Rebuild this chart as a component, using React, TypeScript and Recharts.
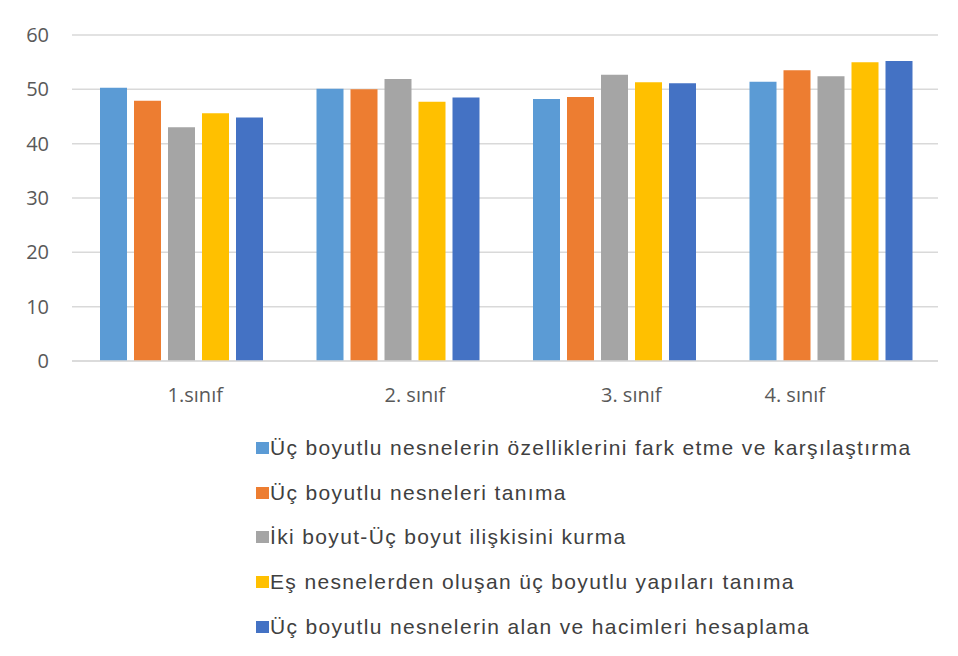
import { BarChart, Bar, XAxis, YAxis, CartesianGrid } from "recharts";

const categories = ["1.sınıf", "2. sınıf", "3. sınıf", "4. sınıf"];

const seriesNames = [
  "Üç boyutlu nesnelerin özelliklerini fark etme ve karşılaştırma",
  "Üç boyutlu nesneleri tanıma",
  "İki boyut-Üç boyut ilişkisini kurma",
  "Eş nesnelerden oluşan üç boyutlu yapıları tanıma",
  "Üç boyutlu nesnelerin alan ve hacimleri hesaplama",
];

const ozellik = [50.3, 50.1, 48.2, 51.4];
const tanima = [47.9, 50.0, 48.6, 53.5];
const ikiUc = [43.0, 51.9, 52.7, 52.4];
const esNesne = [45.6, 47.7, 51.3, 55.0];
const alanHacim = [44.8, 48.5, 51.1, 55.2];

const yTicks = [0, 10, 20, 30, 40, 50, 60];

const colors = ["#5b9bd5", "#ed7d31", "#a5a5a5", "#ffc000", "#4472c4"];

const seriesValues = [ozellik, tanima, ikiUc, esNesne, alanHacim];

const data = categories.map((name, i) => {
  const row: { [key: string]: number | string } = { name };
  seriesValues.forEach((vals, s) => {
    row["s" + s] = vals[i];
  });
  return row;
});

// labels in the original sit a little off the group centres
const labelShift = [15, 18, 18, -35];

function CategoryTick(props: any) {
  const { x, y, payload, index } = props;
  return (
    <text
      x={x + (labelShift[index] || 0)}
      y={y}
      dy={41}
      textAnchor="middle"
      fill="#595959"
      fontSize={20}
      fontFamily="'Open Sans', sans-serif"
    >
      {payload.value}
    </text>
  );
}

export default function App() {
  return (
    <div
      style={{
        position: "relative",
        margin: -8,
        width: 958,
        height: 656,
        overflow: "hidden",
        background: "#fff",
      }}
    >
      <div style={{ position: "absolute", left: 0, top: 0 }}>
        <BarChart
          width={958}
          height={420}
          data={data}
          margin={{ top: 35, right: 20, left: 0, bottom: 19 }}
          barCategoryGap={28}
          barGap={7}
        >
          <CartesianGrid vertical={false} stroke="#d9d9d9" strokeWidth={1.5} />
          <XAxis
            dataKey="name"
            height={40}
            axisLine={{ stroke: "#d9d9d9", strokeWidth: 1.5 }}
            tickLine={false}
            tickSize={0}
            tickMargin={0}
            tick={<CategoryTick />}
            interval={0}
          />
          <YAxis
            width={72}
            domain={[0, 60]}
            ticks={yTicks}
            axisLine={false}
            tickLine={false}
            tickSize={0}
            tickMargin={23}
            tick={{
              fill: "#595959",
              fontSize: 20,
              fontFamily: "'Open Sans', sans-serif",
            }}
          />
          {seriesNames.map((n, s) => (
            <Bar
              key={n}
              dataKey={"s" + s}
              name={n}
              fill={colors[s]}
              isAnimationActive={false}
            />
          ))}
        </BarChart>
      </div>
      <div
        style={{
          position: "absolute",
          left: 256,
          top: 435,
          fontFamily: "'Liberation Sans', Arial, sans-serif",
          fontSize: 21,
          color: "#404040",
        }}
      >
        {seriesNames.map((n, s) => (
          <div
            key={n}
            style={{
              height: 44.7,
              display: "flex",
              alignItems: "flex-start",
              whiteSpace: "nowrap",
            }}
          >
            <span
              style={{
                display: "inline-block",
                width: 13,
                height: 12,
                marginTop: 7,
                marginRight: 1,
                background: colors[s],
              }}
            />
            <span style={{ lineHeight: "26px", letterSpacing: 1.35 }}>{n}</span>
          </div>
        ))}
      </div>
      {/* frame edges of the original chart area */}
      <div
        style={{
          position: "absolute",
          left: 6,
          top: 4,
          width: 2,
          height: 652,
          background: "#c8c8c8",
        }}
      />
      <div
        style={{
          position: "absolute",
          left: 6,
          top: 4,
          width: 952,
          height: 2,
          background: "#c8c8c8",
        }}
      />
    </div>
  );
}
